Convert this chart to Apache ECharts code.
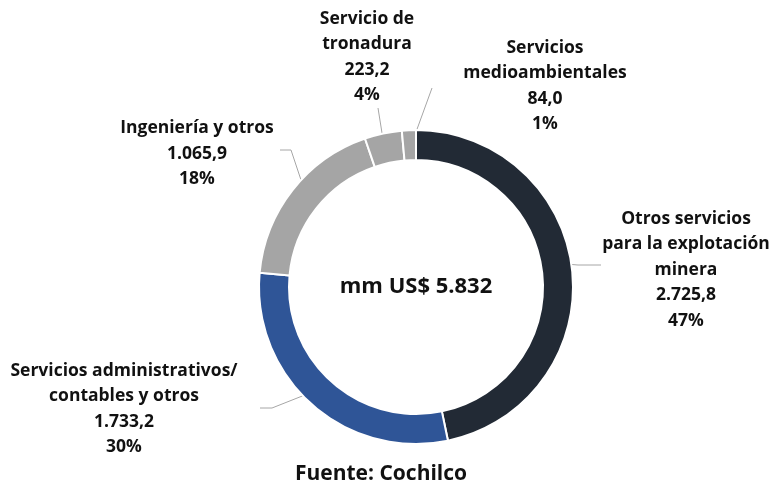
<!DOCTYPE html>
<html><head><meta charset="utf-8">
<script src="https://cdn.jsdelivr.net/npm/echarts@6/dist/echarts.min.js"></script>
<style>html,body{margin:0;padding:0;background:#fff}#c{width:775px;height:489px}</style>
</head><body><div id="c"></div>
<script>
var categories = ["Otros servicios\npara la explotación\nminera", "Servicios administrativos/\ncontables y otros", "Ingeniería y otros", "Servicio de\ntronadura", "Servicios\nmedioambientales"];
var values = [2725.8, 1733.2, 1065.9, 223.2, 84.0];
var colors = ["#222a35", "#2f5597", "#a5a5a5", "#a5a5a5", "#a5a5a5"];
var centerTitle = "mm US$ 5.832";
var sourceText = "Fuente: Cochilco";

var labelPos = [[686, 270], [124, 409], [197, 154], [367, 57], [545, 86]];
var linePts = [
  [[553, 263], [578, 265], [601, 265]],
  [[325, 387], [272, 408], [260, 408]],
  [[301, 180], [291, 150], [280, 150]],
  [[382, 133], [378, 108], [378, 108]],
  [[416, 132], [432, 88], [432, 88]]
];

function fmt(v) {
  var s = v.toFixed(1).split(".");
  var i = s[0].replace(/\B(?=(\d{3})+(?!\d))/g, ".");
  return i + "," + s[1];
}
var total = values.reduce(function (a, b) { return a + b; }, 0);
var FONT = "Open Sans";
var chart = echarts.init(document.getElementById("c"), null, {renderer: "canvas"});
chart.setOption({
  animation: false,
  series: [{
    type: "pie",
    center: [416, 287],
    radius: [127, 157],
    startAngle: 90,
    clockwise: true,
    itemStyle: {borderColor: "#fff", borderWidth: 2},
    data: categories.map(function (c, i) {
      return {name: c, value: values[i], itemStyle: {color: colors[i]}};
    }),
    label: {
      show: true,
      position: "outside",
      formatter: function (p) {
        return p.name + "\n" + fmt(p.value) + "\n" + Math.round(p.value / total * 100) + "%";
      },
      fontFamily: FONT, fontWeight: "bold", fontSize: 17.5, lineHeight: 25.5,
      color: "#111", align: "center", overflow: "none", width: 400
    },
    labelLine: {show: true, lineStyle: {color: "#a6a6a6", width: 1}},
    labelLayout: function (p) {
      var i = p.dataIndex;
      return {x: labelPos[i][0], y: labelPos[i][1], align: "center", verticalAlign: "middle", labelLinePoints: linePts[i]};
    }
  }],
  graphic: [
    {type: "text", position: [416, 287], style: {text: centerTitle, fontFamily: FONT, fontWeight: "bold", fontSize: 22, fill: "#111", align: "center", verticalAlign: "middle"}},
    {type: "text", position: [381, 474], style: {text: sourceText, fontFamily: FONT, fontWeight: "bold", fontSize: 21, fill: "#111", align: "center", verticalAlign: "middle"}}
  ]
});
</script></body></html>
